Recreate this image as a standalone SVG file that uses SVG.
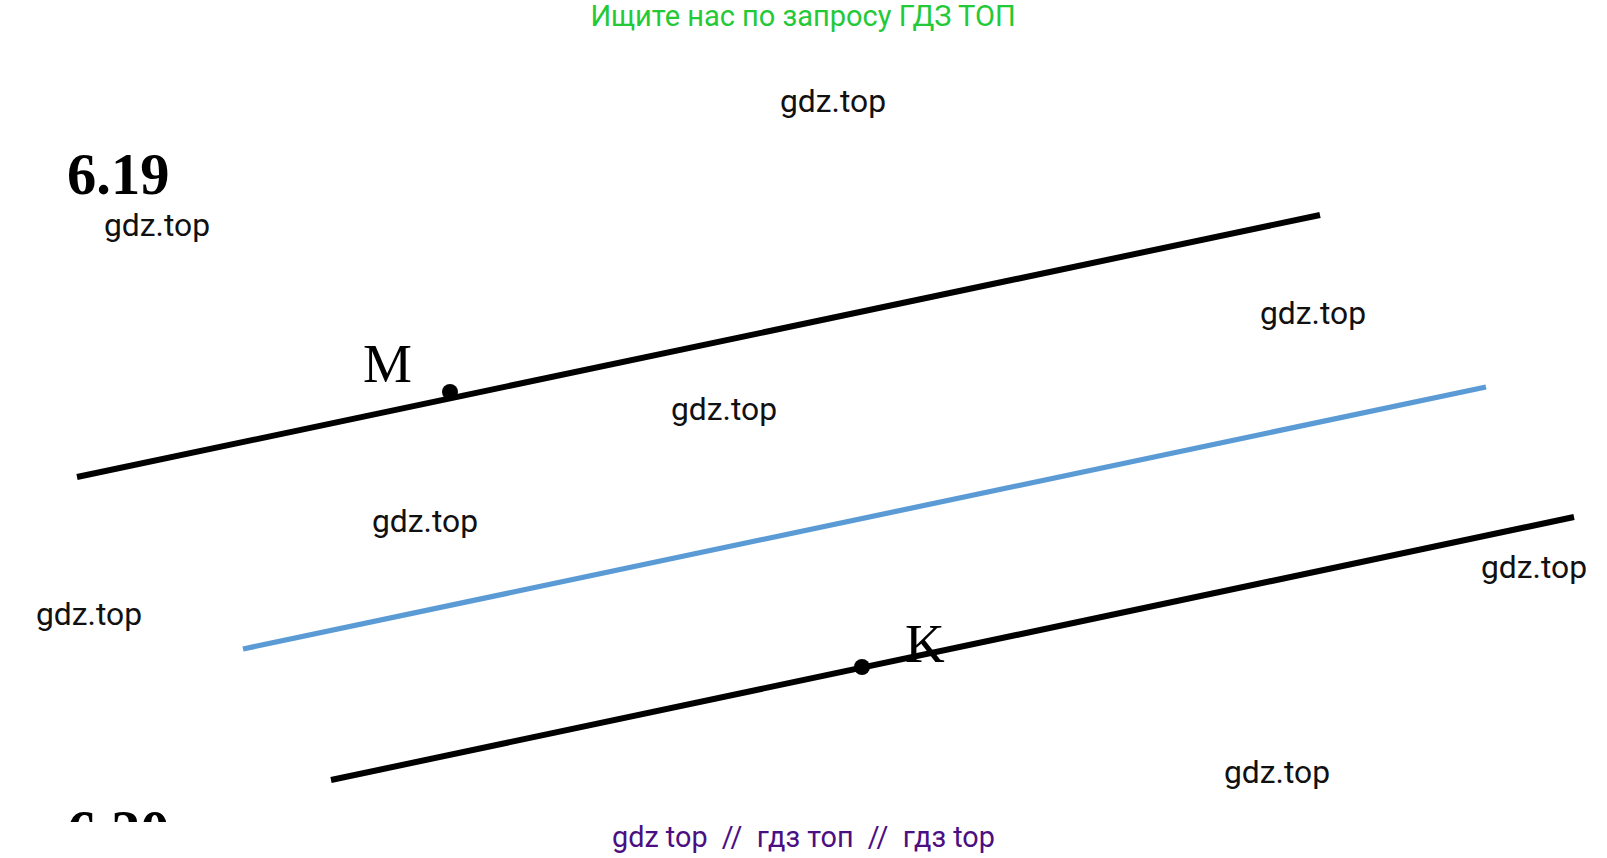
<svg xmlns="http://www.w3.org/2000/svg" width="1607" height="858" viewBox="0 0 1607 858">
<style>
.wm{font-family:Roboto,"Liberation Sans",sans-serif;font-size:31.8px;fill:#111}
.lbl{font-family:"Liberation Serif","Times New Roman",serif;font-size:55px;fill:#000}
.num{font-family:"Liberation Serif","Times New Roman",serif;font-size:58.5px;font-weight:bold;fill:#000}
.ln{stroke:#000;stroke-width:6;stroke-linecap:butt;fill:none}
.blue{stroke:#5b9bd5;stroke-width:5.2;stroke-linecap:butt;fill:none}
.dot{fill:#000}
</style>
<defs>
<clipPath id="cut620"><rect x="0" y="790" width="300" height="32"/></clipPath>
</defs>
<rect width="1607" height="858" fill="#fff"/>
<text x="803" y="26" text-anchor="middle" style="font-family:Roboto,'Liberation Sans',sans-serif;font-size:29px;fill:#23c936">Ищите нас по запросу ГДЗ ТОП</text>
<g id="title619"><text class="num" x="67" y="194">6.19</text></g>
<g id="title620" clip-path="url(#cut620)"><text class="num" x="67" y="851">6.20</text></g>
<g id="connectors">
<line id="lineM" class="ln" x1="77" y1="477" x2="1320" y2="215"/>
<line id="lineBlue" class="blue" x1="243" y1="649" x2="1486" y2="387"/>
<line id="lineK" class="ln" x1="331" y1="780" x2="1574" y2="517"/>
</g>
<g id="pointM"><circle class="dot" cx="450" cy="392" r="8"/><text class="lbl" x="363" y="382">M</text></g>
<g id="pointK"><circle class="dot" cx="862" cy="667" r="8"/><text class="lbl" x="905" y="662">K</text></g>
<g id="watermarks">
<text class="wm" x="780" y="112">gdz.top</text>
<text class="wm" x="104" y="236">gdz.top</text>
<text class="wm" x="1260" y="324">gdz.top</text>
<text class="wm" x="671" y="420">gdz.top</text>
<text class="wm" x="372" y="532">gdz.top</text>
<text class="wm" x="36" y="625">gdz.top</text>
<text class="wm" x="1481" y="578">gdz.top</text>
<text class="wm" x="1224" y="783">gdz.top</text>
</g>
<text x="612" y="847" xml:space="preserve" style="font-family:Roboto,'Liberation Sans',sans-serif;font-size:28.8px;fill:#4b0f82">gdz top  //  гдз топ  //  гдз top</text>
</svg>
